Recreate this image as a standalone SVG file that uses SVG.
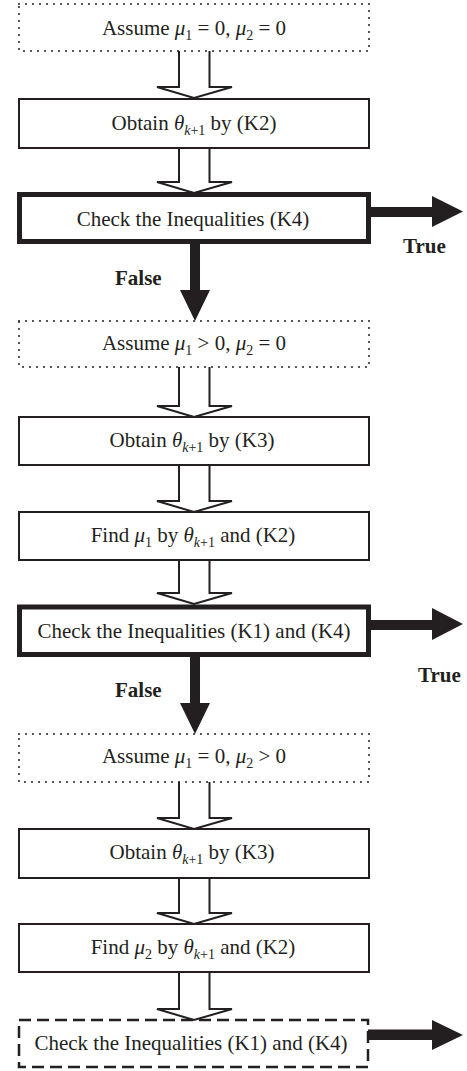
<svg xmlns="http://www.w3.org/2000/svg" width="467" height="1071" viewBox="0 0 467 1071">
  <style>
    text { font-family: "Liberation Serif", "Times New Roman", serif; font-size: 21px; fill: #231f20; text-anchor: middle; }
    .i { font-style: italic; }
    .s { font-size: 14px; }
    .lbl { font-weight: bold; text-anchor: start; }
    .box { fill: #fff; stroke: #231f20; stroke-width: 2; }
    .thick { fill: #fff; stroke: #231f20; stroke-width: 5; }
    .dot { fill: none; stroke: #231f20; stroke-width: 2; stroke-dasharray: 0 7; stroke-linecap: round; }
    .dash { fill: none; stroke: #231f20; stroke-width: 2.5; stroke-dasharray: 12 6; }
    .hollow { fill: #fff; stroke: #231f20; stroke-width: 2; stroke-linejoin: miter; }
    .solid { fill: #231f20; stroke: none; }
  </style>

  <!-- connectors -->
  <g id="connectors">
    <!-- hollow flow arrows between steps -->
    <path class="hollow" d="M179,51 V87 H157 L194,98 L232,87 H209.5 V51"/>
    <path class="hollow" d="M179,148 V182 H157 L194,193 L232,182 H209.5 V148"/>
    <path class="hollow" d="M179,367 V406 H157 L194,417 L232,406 H209.5 V367"/>
    <path class="hollow" d="M179,465 V501 H157 L194,512 L232,501 H209.5 V465"/>
    <path class="hollow" d="M179,560 V593 H157 L194,604 L232,593 H209.5 V560"/>
    <path class="hollow" d="M179,782 V818 H157 L194,829 L232,818 H209.5 V782"/>
    <path class="hollow" d="M179,878 V913 H157 L194,924 L232,913 H209.5 V878"/>
    <path class="hollow" d="M179,972 V1009 H157 L194,1020 L232,1009 H209.5 V972"/>

    <!-- False branches -->
    <path class="solid" d="M190,244 V290 H180 L195,321 L210,290 H200 V244 Z"/>
    <path class="solid" d="M190,657 V703 H180 L195,734 L210,703 H200 V657 Z"/>

    <!-- True branches -->
    <path class="solid" d="M371,207 H432 V196 L463,211.5 L432,227 V217 H371 Z"/>
    <path class="solid" d="M371,620 H432 V608 L463,624 L432,640 V630 H371 Z"/>
    <path class="solid" d="M368,1029.5 H432 V1020 L463,1035 L432,1050 V1040 H368 Z"/>

    <text class="lbl" x="403" y="253">True</text>
    <text class="lbl" x="115" y="285">False</text>
    <text class="lbl" x="418" y="682">True</text>
    <text class="lbl" x="115" y="697">False</text>
  </g>

  <g id="assume1">
    <rect class="dot" x="19" y="4" width="350" height="47"/>
    <text x="194" y="35">Assume <tspan class="i">μ</tspan><tspan class="s" dy="5">1</tspan><tspan dy="-5"> = 0, </tspan><tspan class="i">μ</tspan><tspan class="s" dy="5">2</tspan><tspan dy="-5"> = 0</tspan></text>
  </g>

  <g id="obtain1">
    <rect class="box" x="19" y="99" width="350" height="49"/>
    <text x="194" y="130">Obtain <tspan class="i">θ</tspan><tspan class="s" dy="5"><tspan class="i">k</tspan>+1</tspan><tspan dy="-5"> by (K2)</tspan></text>
  </g>

  <g id="check1">
    <rect class="thick" x="19.5" y="194.5" width="349" height="47"/>
    <text x="193" y="226">Check the Inequalities (K4)</text>
  </g>

  <g id="assume2">
    <rect class="dot" x="19" y="321" width="350" height="46"/>
    <text x="194" y="350">Assume <tspan class="i">μ</tspan><tspan class="s" dy="5">1</tspan><tspan dy="-5"> &gt; 0, </tspan><tspan class="i">μ</tspan><tspan class="s" dy="5">2</tspan><tspan dy="-5"> = 0</tspan></text>
  </g>

  <g id="obtain2">
    <rect class="box" x="19" y="417" width="350" height="48"/>
    <text x="192" y="447">Obtain <tspan class="i">θ</tspan><tspan class="s" dy="5"><tspan class="i">k</tspan>+1</tspan><tspan dy="-5"> by (K3)</tspan></text>
  </g>

  <g id="find1">
    <rect class="box" x="19" y="512" width="350" height="48"/>
    <text x="193" y="542">Find <tspan class="i">μ</tspan><tspan class="s" dy="5">1</tspan><tspan dy="-5"> by </tspan><tspan class="i">θ</tspan><tspan class="s" dy="5"><tspan class="i">k</tspan>+1</tspan><tspan dy="-5"> and (K2)</tspan></text>
  </g>

  <g id="check2">
    <rect class="thick" x="19.5" y="607" width="349" height="47.5"/>
    <text x="194" y="638">Check the Inequalities (K1) and (K4)</text>
  </g>

  <g id="assume3">
    <rect class="dot" x="19" y="734" width="350" height="48"/>
    <text x="194" y="763">Assume <tspan class="i">μ</tspan><tspan class="s" dy="5">1</tspan><tspan dy="-5"> = 0, </tspan><tspan class="i">μ</tspan><tspan class="s" dy="5">2</tspan><tspan dy="-5"> &gt; 0</tspan></text>
  </g>

  <g id="obtain3">
    <rect class="box" x="19" y="829" width="350" height="49"/>
    <text x="192" y="859">Obtain <tspan class="i">θ</tspan><tspan class="s" dy="5"><tspan class="i">k</tspan>+1</tspan><tspan dy="-5"> by (K3)</tspan></text>
  </g>

  <g id="find2">
    <rect class="box" x="19" y="924" width="350" height="48"/>
    <text x="193" y="954">Find <tspan class="i">μ</tspan><tspan class="s" dy="5">2</tspan><tspan dy="-5"> by </tspan><tspan class="i">θ</tspan><tspan class="s" dy="5"><tspan class="i">k</tspan>+1</tspan><tspan dy="-5"> and (K2)</tspan></text>
  </g>

  <g id="check3">
    <rect class="dash" x="19" y="1020" width="349" height="47"/>
    <text x="191" y="1050">Check the Inequalities (K1) and (K4)</text>
  </g>
</svg>
